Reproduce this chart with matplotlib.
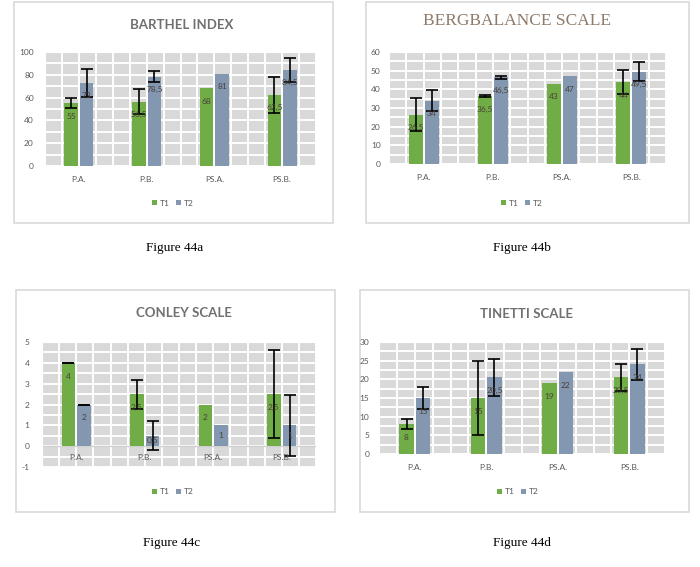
import numpy as np
import matplotlib.pyplot as plt
from matplotlib.patches import Rectangle

plt.rcParams['font.family'] = ['Lato', 'DejaVu Sans']
plt.rcParams['axes.unicode_minus'] = False

## data
categories = ["P.A.", "P.B.", "PS.A.", "PS.B."]

barthel_t1 = [55, 56.5, 68, 62.5]
barthel_t2 = [73, 78.5, 81, 84.5]
barthel_e1 = [4.5, 11, np.nan, 16]
barthel_e2 = [12.5, 4.5, np.nan, 10.5]

berg_t1 = [26.5, 36.5, 43, 44]
berg_t2 = [34, 46.5, 47, 49.5]
berg_e1 = [9, 0.7, np.nan, 6.5]
berg_e2 = [5.5, 0.8, np.nan, 5]

conley_t1 = [4, 2.5, 2, 2.5]
conley_t2 = [2, 0.5, 1, 1]
conley_e1 = [0, 0.7, np.nan, 2.1]
conley_e2 = [0, 0.7, np.nan, 1.45]

tinetti_t1 = [8, 15, 19, 20.5]
tinetti_t2 = [15, 20.5, 22, 24]
tinetti_e1 = [1.4, 10, np.nan, 3.5]
tinetti_e2 = [3, 5, np.nan, 4.2]

GREEN = '#70ad47'
BLUEGRAY = '#8497b0'
W, H = 700, 567

fig = plt.figure(figsize=(7, 5.67), dpi=100)


def fbox(x0, y0, x1, y1):
	# pixel box (y down) -> figure fraction
	return [x0 / W, 1 - y1 / H, (x1 - x0) / W, (y1 - y0) / H]


def fxy(x, y):
	return x / W, 1 - y / H


def lbl(v):
	return ('%g' % v).replace('.', ',')


def panel(box, plot, title, title_xy, t1, t2, e1, e2, ylim, ystep, gstep, leg_xy,
	cap, cap_xy, serif_title=False, zero_axis=False, ypad=5):
	# chart frame, kept under the axes
	x0, y0, x1, y1 = box
	fig.patches.append(Rectangle(fxy(x0, y1), (x1 - x0) / W, (y1 - y0) / H,
		transform=fig.transFigure, facecolor='white', edgecolor='#d9d9d9', lw=1.2,
		zorder=-5))
	ax = fig.add_axes(fbox(*plot))
	ax.set_facecolor('#d9d9d9')
	x = np.arange(len(categories))
	w = 0.2
	ekw = dict(ecolor='black', elinewidth=1.2, capthick=1.2)
	b1 = ax.bar(x - 0.115, t1, w, color=GREEN, yerr=e1, capsize=4,
		error_kw=ekw, label='T1', zorder=3)
	b2 = ax.bar(x + 0.115, t2, w, color=BLUEGRAY, yerr=e2, capsize=4,
		error_kw=ekw, label='T2', zorder=3)
	ax.set_xlim(-0.5, len(categories) - 0.5)
	ax.set_ylim(*ylim)
	# points per data unit, to keep labels inside short bars
	ppu = (plot[3] - plot[1]) * 0.72 / (ylim[1] - ylim[0])
	for xs, vals in ((x - 0.115, t1), (x + 0.115, t2)):
		for xi, v in zip(xs, vals):
			off = min(9.5, v * ppu / 2)
			ax.annotate(lbl(v), (xi, v), xytext=(0, -off), textcoords='offset points',
				ha='center', va='center', fontsize=6, color='#4a4038', zorder=4)
	ax.set_yticks(np.arange(ylim[0], ylim[1] + ystep / 2, ystep))
	ax.set_yticks(np.arange(ylim[0], ylim[1] + gstep / 2, gstep), minor=True)
	ax.set_xticks(x)
	ax.set_xticks(np.arange(-0.5, len(categories) - 0.5 + 0.01, 0.25), minor=True)
	ax.grid(which='both', color='white', lw=1.4)
	ax.set_axisbelow(True)
	ax.tick_params(which='both', length=0)
	ax.tick_params(axis='y', labelsize=6, labelcolor='#595959', pad=ypad)
	ax.tick_params(axis='x', labelsize=6, labelcolor='#595959', pad=7)
	for s in ax.spines.values():
		s.set_color('white')
	if zero_axis:
		# category labels sit on the zero line, inside the plot area
		ax.set_xticklabels([])
		ax.axhline(0, color='#d0d0d0', lw=1, zorder=2)
		for xi, c in zip(x, categories):
			ax.annotate(c, (xi, 0), xytext=(0, -5.5), textcoords='offset points',
				ha='center', va='top', fontsize=6, color='#595959', zorder=5)
	else:
		ax.set_xticklabels(categories)
	if serif_title:
		fig.text(*fxy(*title_xy), title, ha='center', va='center', fontsize=12.5,
			color='#8c7a6b', family='Liberation Serif')
	else:
		fig.text(*fxy(*title_xy), title, ha='center', va='center', fontsize=9.5,
			color='#707070', fontweight='bold')
	ax.legend(handles=[b1, b2], loc='center', bbox_to_anchor=fxy(*leg_xy),
		bbox_transform=fig.transFigure, ncol=2, frameon=False, fontsize=6,
		handlelength=0.6, handleheight=0.6, handletextpad=0.3, columnspacing=0.8,
		labelcolor='#595959')
	fig.text(*fxy(*cap_xy), cap, ha='center', va='center', fontsize=9.5,
		family='Liberation Serif', color='black')
	return ax


panel((14, 2, 333, 223), (45, 52, 316, 166), 'BARTHEL INDEX', (182, 25),
	barthel_t1, barthel_t2, barthel_e1, barthel_e2, (0, 100), 20, 10,
	(173, 203), 'Figure 44a', (175, 248), ypad=8)
panel((366, 2, 689, 223), (389, 52, 666, 164), 'BERGBALANCE SCALE', (517, 21),
	berg_t1, berg_t2, berg_e1, berg_e2, (0, 60), 10, 5,
	(522, 203), 'Figure 44b', (522, 248), serif_title=True, ypad=6)
panel((16, 290, 335, 512), (42, 342, 316, 467), 'CONLEY SCALE', (184, 313),
	conley_t1, conley_t2, conley_e1, conley_e2, (-1, 5), 1, 0.5,
	(173, 492), 'Figure 44c', (172, 543), zero_axis=True, ypad=9)
panel((360, 290, 689, 512), (379, 342, 665, 454), 'TINETTI SCALE', (526, 314),
	tinetti_t1, tinetti_t2, tinetti_e1, tinetti_e2, (0, 30), 5, 2.5,
	(518, 492), 'Figure 44d', (522, 543), ypad=7)

fig.savefig('out.png', dpi=100)
